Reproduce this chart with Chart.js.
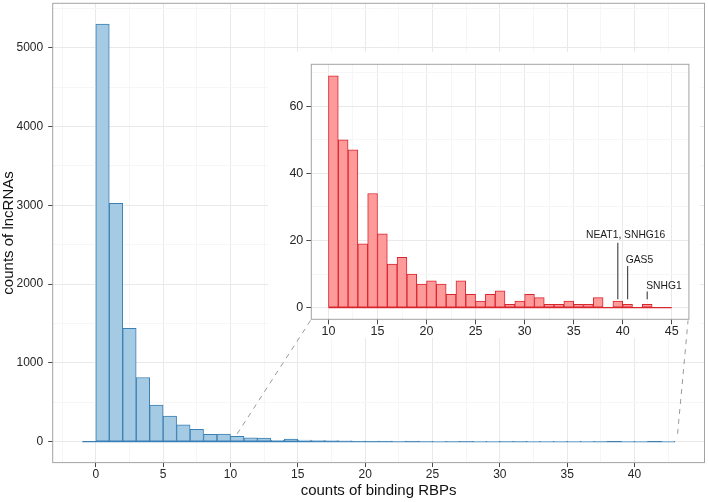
<!DOCTYPE html>
<html><head><meta charset="utf-8">
<script src="https://cdn.jsdelivr.net/npm/chart.js@4/dist/chart.umd.min.js"></script>
<style>
html,body{margin:0;padding:0;background:#fff;}
#wrap{position:relative;width:708px;height:502px;overflow:hidden;background:#fff;}
canvas{position:absolute;}
#main{left:0;top:0;}
#inset{left:268px;top:52px;}
#links{left:0;top:0;}
</style></head><body>
<div id="wrap">
<canvas id="main" width="708" height="502"></canvas>
<canvas id="inset" width="432" height="286"></canvas>
<canvas id="links" width="708" height="502"></canvas>
</div>
<script>
// ---------- data ----------
const mainBinStarts = [-1,0,1,2,3,4,5,6,7,8,9,10,11,12,13,14,15,16,17,18,19,20,21,22,23,24,25,26,27,28,29,30,31,32,33,34,35,36,37,38,39,40,41,42];
const mainCounts    = [0,5300,3025,1440,815,464,324,214,158,94,97,69,50,47,19,34,22,13,15,10,7,8,7,4,8,4,2,4,5,1,2,4,3,1,1,2,1,1,3,0,2,1,0,1];
const insetBinStarts = [10,11,12,13,14,15,16,17,18,19,20,21,22,23,24,25,26,27,28,29,30,31,32,33,34,35,36,37,38,39,40,41,42,43,44];
const insetCounts    = [69,50,47,19,34,22,13,15,10,7,8,7,4,8,4,2,4,5,1,2,4,3,1,1,2,1,1,3,0,2,1,0,1,0,0];

const mainXMajor = [0,5,10,15,20,25,30,35,40];
const mainXMinor = [-2.5,2.5,7.5,12.5,17.5,22.5,27.5,32.5,37.5,42.5];
const mainYMajor = [0,1000,2000,3000,4000,5000];
const mainYMinor = [500,1500,2500,3500,4500,5500];
const insetXMajor = [10,15,20,25,30,35,40,45];
const insetXMinor = [12.5,17.5,22.5,27.5,32.5,37.5,42.5];
const insetYMajor = [0,20,40,60];
const insetYMinor = [10,30,50,70];

const calloutNames  = ['NEAT1, SNHG16','GAS5','SNHG1'];
const calloutX      = [39.5,40.5,42.5];
const calloutTop    = [19.3,12.4,4.8];
const calloutBottom = [2.5,2.5,2.5];
const calloutLabelX = [40.3,41.7,44.2];
const calloutLabelY = [20.6,13.2,5.6];

// zoom connectors (main data coordinates): from main bars to inset panel corners
const zoomFromX = [10.5,43.2];
const zoomFromY = [100,100];
const zoomToX   = [15.95,43.98];
const zoomToY   = [1540,1540];

const xTitle = 'counts of binding RBPs';
const yTitle = 'counts of lncRNAs';

// ---------- helpers ----------
const FONT = '"Liberation Sans", Arial, Helvetica, sans-serif';
const GRID_MAJOR = '#e9e9e9', GRID_MINOR = '#f6f6f6', TICK = '#4a4a4a', TXT = '#262626';
function setTicks(majors, minors){
  return function(scale){
    scale.ticks = majors.concat(minors).sort((a,b)=>a-b).map(v=>({value:v}));
  };
}
function isMajor(majors){ return ctx => ctx.tick && majors.includes(ctx.tick.value); }
function fitTo(prop, val){
  return function(s){
    s[prop] = val;
    s.paddingTop = 0; s.paddingBottom = 0; s.paddingLeft = 0; s.paddingRight = 0;
  };
}
function axisCfg(min,max,majors,minors,fontSize,tickLen,pad,fitFn,title){
  const maj = isMajor(majors);
  const cfg = {
    type:'linear', min:min, max:max, offset:false,
    afterBuildTicks: setTicks(majors,minors),
    afterFit: fitFn,
    border:{display:false},
    grid:{
      offset:false,
      color: ctx => maj(ctx) ? GRID_MAJOR : GRID_MINOR,
      tickColor: ctx => maj(ctx) ? TICK : 'rgba(0,0,0,0)',
      lineWidth:1, tickLength:tickLen, drawTicks:true
    },
    ticks:{
      autoSkip:false, maxRotation:0, minRotation:0, padding:pad,
      color:TXT, font:{family:FONT,size:fontSize,lineHeight:1},
      callback: v => majors.includes(v) ? String(v) : ''
    }
  };
  if (title) cfg.title = title;
  return cfg;
}
function bins(starts, counts){ return starts.map((s,i)=>({x:s+0.5, y:counts[i]})); }
// outline of the zero-height part of the histogram (spans all bins at count 0)
function baseline(starts, color){
  return { type:'line', data:[{x:starts[0],y:0},{x:starts[starts.length-1]+1,y:0}],
           borderColor:color, borderWidth:1.3, pointRadius:0, fill:false };
}

const whiteBg = { id:'whiteBg', beforeDraw(c){ const g=c.ctx; g.save(); g.fillStyle='#fff'; g.fillRect(0,0,c.width,c.height); g.restore(); } };
const panelBorder = { id:'panelBorder', afterDraw(c){ const a=c.chartArea, g=c.ctx; g.save(); g.strokeStyle='#a3a3a3'; g.lineWidth=1; g.strokeRect(a.left,a.top,a.right-a.left,a.bottom-a.top); g.restore(); } };

// ---------- main histogram ----------
new Chart(document.getElementById('main'), {
  type:'bar',
  data:{ datasets:[{
    type:'bar',
    data: bins(mainBinStarts, mainCounts),
    backgroundColor:'#a4cbe3', borderColor:'#3b7fb4', borderWidth:1,
    borderSkipped:false, barPercentage:1, categoryPercentage:1
  }, baseline(mainBinStarts,'#3b7fb4')]},
  options:{
    responsive:false, animation:false, devicePixelRatio:1,
    layout:{padding:{left:0,top:3.3,right:3.5,bottom:0}},
    plugins:{legend:{display:false}, tooltip:{enabled:false}},
    scales:{
      x: axisCfg(-3.2,45.2,mainXMajor,mainXMinor,12,4.5,1.5, fitTo('height',39.4),
        {display:true,text:xTitle,color:'#111',font:{family:FONT,size:15,lineHeight:1.2},padding:{top:0,bottom:2.3}}),
      y: axisCfg(-265,5565,mainYMajor,mainYMinor,12,4.5,5, fitTo('width',52.7),
        {display:true,text:yTitle,color:'#111',font:{family:FONT,size:15,lineHeight:1.2},padding:{top:0.3,bottom:0}})
    }
  },
  plugins:[whiteBg,panelBorder]
});

// ---------- inset histogram ----------
const calloutSets = calloutX.map((x,i)=>({
  type:'line',
  data:[{x:x,y:calloutBottom[i]},{x:x,y:calloutTop[i]}],
  borderColor:'#4d4d4d', borderWidth:1.2, pointRadius:0, fill:false
}));
const calloutLabels = { id:'calloutLabels', afterDatasetsDraw(c){
  const g=c.ctx, xs=c.scales.x, ys=c.scales.y;
  g.save(); g.fillStyle='#1a1a1a'; g.font='10.3px '+FONT; g.textAlign='center'; g.textBaseline='alphabetic';
  calloutNames.forEach((t,i)=>g.fillText(t, xs.getPixelForValue(calloutLabelX[i]), ys.getPixelForValue(calloutLabelY[i])));
  g.restore();
}};
new Chart(document.getElementById('inset'), {
  type:'bar',
  data:{ datasets:[{
    type:'bar',
    data: bins(insetBinStarts, insetCounts),
    backgroundColor:'#fe9a9a', borderColor:'#d9262e', borderWidth:1,
    borderSkipped:false, barPercentage:1, categoryPercentage:1
  }, baseline(insetBinStarts,'#d9262e')].concat(calloutSets)},
  options:{
    responsive:false, animation:false, devicePixelRatio:1,
    layout:{padding:{left:0,top:12.3,right:11.1,bottom:0}},
    plugins:{legend:{display:false}, tooltip:{enabled:false}},
    scales:{
      x: axisCfg(8.25,46.75,insetXMajor,insetXMinor,12.5,5,0.5, fitTo('height',18.7)),
      y: axisCfg(-3.45,72.45,insetYMajor,insetYMinor,12.5,5,3, fitTo('width',43.3))
    }
  },
  plugins:[whiteBg,calloutLabels,panelBorder]
});

// ---------- dashed zoom connectors (overlay, main coordinates) ----------
new Chart(document.getElementById('links'), {
  type:'line',
  data:{ datasets: zoomFromX.map((x,i)=>({
    data:[{x:x,y:zoomFromY[i]},{x:zoomToX[i],y:zoomToY[i]}],
    borderColor:'#9a9a9a', borderWidth:1, borderDash:[5,5], pointRadius:0, fill:false
  }))},
  options:{
    responsive:false, animation:false, devicePixelRatio:1,
    layout:{padding:{left:52.7,top:3.3,right:3.5,bottom:39.4}},
    plugins:{legend:{display:false}, tooltip:{enabled:false}},
    scales:{
      x:{type:'linear',min:-3.2,max:45.2,display:false},
      y:{type:'linear',min:-265,max:5565,display:false}
    }
  }
});
</script>
</body></html>
